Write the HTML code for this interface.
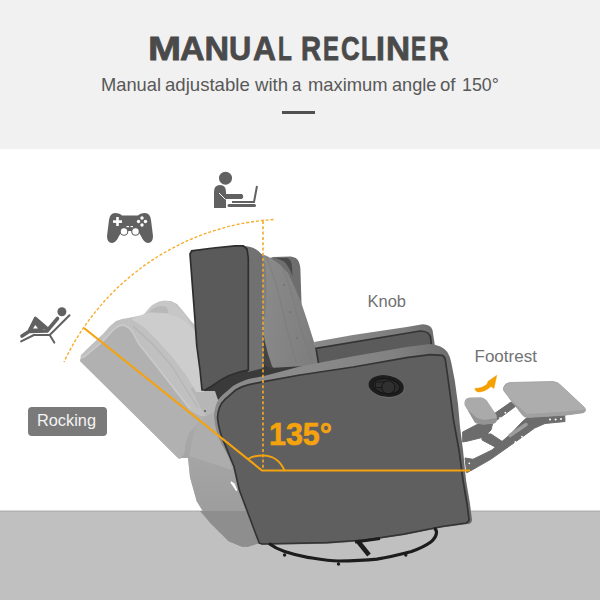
<!DOCTYPE html>
<html><head><meta charset="utf-8">
<style>
html,body{margin:0;padding:0;width:600px;height:600px;overflow:hidden;background:#fff;}
body{position:relative;font-family:"Liberation Sans",sans-serif;}
.hdr{position:absolute;left:0;top:0;width:600px;height:149px;background:#f1f1f1;}
.floor{position:absolute;left:0;top:511px;width:600px;height:90px;background:#c0c0c0;}
.t{position:absolute;white-space:nowrap;line-height:1;}
svg{position:absolute;left:0;top:0;}
.ttl{top:30.5px;font-size:34px;font-weight:bold;color:#4a4a4a;transform-origin:0 0;-webkit-text-stroke:0.8px #4a4a4a;}
.sub{top:76px;font-size:18.6px;color:#585858;transform-origin:0 0;}
</style></head><body>
<div class="hdr"></div>
<div class="floor"></div>
<!--TXT-->
<div class="t ttl" style="left:148.17px;transform:scaleX(1.167)">M</div>
<div class="t ttl" style="left:180.00px;transform:scaleX(1.000)">A</div>
<div class="t ttl" style="left:204.50px;transform:scaleX(1.000)">N</div>
<div class="t ttl" style="left:229.19px;transform:scaleX(0.905)">U</div>
<div class="t ttl" style="left:253.07px;transform:scaleX(0.935)">A</div>
<div class="t ttl" style="left:277.67px;transform:scaleX(0.667)">L</div>
<div class="t ttl" style="left:301.36px;transform:scaleX(0.818)">R</div>
<div class="t ttl" style="left:322.60px;transform:scaleX(0.700)">E</div>
<div class="t ttl" style="left:340.74px;transform:scaleX(0.761)">C</div>
<div class="t ttl" style="left:360.56px;transform:scaleX(0.722)">L</div>
<div class="t ttl" style="left:376.12px;transform:scaleX(0.940)">I</div>
<div class="t ttl" style="left:385.74px;transform:scaleX(0.980)">N</div>
<div class="t ttl" style="left:411.48px;transform:scaleX(0.660)">E</div>
<div class="t ttl" style="left:429.10px;transform:scaleX(0.800)">R</div>
<div class="t sub" style="left:101.02px;transform:scaleX(0.983)">Manual</div>
<div class="t sub" style="left:165.00px;transform:scaleX(1.000)">adjustable</div>
<div class="t sub" style="left:255.00px;transform:scaleX(1.000)">with</div>
<div class="t sub" style="left:292.10px;transform:scaleX(0.900)">a</div>
<div class="t sub" style="left:308.01px;transform:scaleX(0.987)">maximum</div>
<div class="t sub" style="left:392.02px;transform:scaleX(0.977)">angle</div>
<div class="t sub" style="left:440.00px;transform:scaleX(1.000)">of</div>
<div class="t sub" style="left:461.54px;transform:scaleX(0.958)">150°</div>
<!--/TXT-->
<div style="position:absolute;left:282px;top:111px;width:33px;height:3px;background:#505050;"></div>
<svg width="600" height="600" viewBox="0 0 600 600">
<defs>
 <linearGradient id="gBand" gradientUnits="userSpaceOnUse" x1="300" y1="0" x2="455" y2="0"><stop offset="0" stop-color="#8b8b8b"/><stop offset="0.6" stop-color="#828282"/><stop offset="1" stop-color="#6a6a6a"/></linearGradient>
 <linearGradient id="gFarBand" gradientUnits="userSpaceOnUse" x1="320" y1="0" x2="436" y2="0"><stop offset="0" stop-color="#888"/><stop offset="0.7" stop-color="#7e7e7e"/><stop offset="1" stop-color="#6c6c6c"/></linearGradient>
 <linearGradient id="gGhostArm" x1="0" y1="0" x2="0" y2="1"><stop offset="0" stop-color="#acacac"/><stop offset="1" stop-color="#989898"/></linearGradient>
 <linearGradient id="gCush" x1="0" y1="0" x2="1" y2="0.3"><stop offset="0" stop-color="#8c8c8c"/><stop offset="1" stop-color="#7e7e7e"/></linearGradient>
</defs>
<rect x="0" y="510.5" width="600" height="1.5" fill="#b3b3b3"/>
<!-- ghost chair -->
<g id="ghost">
 <!-- ghost base silhouette -->
 <path d="M80,361 L81,355 L88,348 L103,334 L110,326 L116,321 L122,319 L128,318 L138,316 L143,315 L149,309 L155,304 L163,301 L171,301 L177,304 L183,311 L191,321 L195,325 L198,350 L200,380 L204,390 L216,390 L222,400 L216,416 L220.7,432 L234,466.7 L247.3,506.7 L255.3,528 L260,543 L248,546.7 L242,546.7 L228.7,541.3 L210,522.7 L196.7,501.3 L190,477.3 L188,458 L184,454 L180,459 L178,458 Z" fill="#c0c0c0"/>
 <!-- ghost lower arm -->
 <path d="M178,458 L184,454 L185,444 L188,434 L196,424 L206,416 L218,410 L216,416 L220.7,432 L234,466.7 L247.3,506.7 L255.3,528 L260,543 L248,546.7 L242,546.7 L228.7,541.3 L210,522.7 L196.7,501.3 L190,477.3 L188,458 Z" fill="url(#gGhostArm)"/>
 <path d="M189,456 L196,424 L206,416 L218,410 L216,416 L220.7,432 L232,470 Z" fill="#adadad"/>
 <path d="M190,511 L200,511 L210,522.7 L228.7,541.3 L242,546.7 L248,546.7 L260,543 L255.3,528 L250,511 Z" fill="#8e8e8e"/>
 <path d="M231,482 L236.7,490.7 L234,484 Z" fill="#fff" stroke="#fff" stroke-width="1.5"/>
 <!-- ghost band under panel -->
 <path d="M191,389 L202,410 L206,416 L218,410 L222,400 L216,390 L204,390 L200,380 Z" fill="#b6b6b6"/>
 <!-- ghost cushion -->
 <path d="M131,319 L135,317.4 L145.8,313.6 L156.7,312.5 L167.5,313.6 L178.3,316.8 L187,322.2 L193.5,328.7 L195.5,332 L198,350 L200,378 L204,392 L196,392 L186,375 L173,358 L157,340 L145,328 L136,322 Z" fill="#cdcdcd"/>
 <!-- far ghost wing hump -->
 <path d="M145.8,312.5 Q150,306 154.5,303.8 Q160,300.5 165.3,300.6 Q170,301 172.9,302.8 L180.5,309.3 L187,318 L193.5,327.7 L194.5,330 L187,322.2 L178.3,316.8 L167.5,313.6 L156.7,312.5 Z" fill="#c7c7c7"/>
 <path d="M149,311.8 Q153,308 156.7,307 Q161,305.5 164.3,306 Q167,307 167.5,309.3 L168.6,313.3 L156.7,312.5 Z" fill="#b8b8b8"/>
 <!-- ghost front face -->
 <path d="M80,361 L81,359 L84,358 L103,342 L110,334.5 Q116.5,326.5 122.5,326 Q128,326.5 132,333 L138.5,345 L154.5,365 L174,390 L189.5,410 L200,416 L206,416 L196,424 L188,434 L185,444 L184,454 L180,459 L178,458 Z" fill="#b1b1b1"/>
 <path d="M82,357 L84,357 L103,341 L110,333.5 Q116.5,325.5 122.5,325 Q128,325.5 132.5,332 L139,344 L155,364 L174.5,389 L190,408.5" fill="none" stroke="#cbcbcb" stroke-width="1.3"/>
 <path d="M133,326 L153.5,345 L171,365 L186.7,390 L198,408" fill="none" stroke="#b4b4b4" stroke-width="1.2"/>
 <circle cx="205" cy="411" r="1" fill="#555"/>
</g>
<!-- main chair -->
<g id="main">
 <!-- far wing -->
 <path d="M270,258 L273.4,256.9 L290.7,256.6 Q297,257.5 298.5,261.2 Q300.5,265 300.5,272 L301.5,304 L290,300 Z" fill="#6e6e6e"/>
 <path d="M275,258 L287.5,258 Q291.5,260 292,266 L292.5,276 Q289,266 284,261.5 Q280,259 275,258 Z" fill="#4a4a4a"/>
 <!-- tufted back cushion -->
 <path d="M258,253 L262,254 L269,257 L280,264.5 L288,273 L295,288 L301.5,303.5 L308,323 L314,342 L320,360 L321,370 L290,376 L272,374 Q264,345 261,318 Z" fill="url(#gCush)"/>
 <path d="M264,262 Q267,290 264,318" fill="none" stroke="#767676" stroke-width="2" opacity="0.6"/>
 <path d="M266,256 Q276,280 283,312 Q288,335 296,362 M282,266 Q292,290 296,312 Q302,335 312,360" fill="none" stroke="#7a7a7a" stroke-width="1.2" opacity="0.55"/>
 <circle cx="284" cy="285" r="1" fill="#707070"/><circle cx="290" cy="312" r="1" fill="#707070"/><circle cx="297" cy="338" r="1" fill="#707070"/>
 <path d="M261,316 Q264,345 272,366 L276,372 L262,378 Z" fill="#444"/>
 <!-- far arm -->
 <path d="M314,342 L353,335 L406.7,327 L422.7,324.3 Q430.7,324.5 432.5,330 L434.7,344.3 L436,365 L320,372 Z" fill="url(#gFarBand)"/>
 <path d="M316,348.3 L420,331 Q429,331 430.5,337 L431.5,346 L432,365 L320,372 Z" fill="#5b5b5b" stroke="#343434" stroke-width="1.7"/>
 <!-- shadow between panel and arm -->
 <path d="M204,391 L212,380 L240,365 L258,362 L270,368 L305,366 L306,372 L263,377.5 L246.7,382.5 L230,390 L218,400 L215,391 Z" fill="#3a3a3a"/>
 <!-- back wing panel side -->
 <path d="M240,245.8 Q258,245.5 263.5,258 L263.5,368 L248,372 Z" fill="#717171"/>
 <!-- back wing panel front face -->
 <path d="M190,254 L191.7,250.8 L213.3,248 L235,245.8 L243.3,245.8 L247,249 L248.3,258 L248.3,370 C235,372 222,378 212,386 L205,390 L202,390 L200,370 L196.7,345 L195,320 Z" fill="#5a5a5a" stroke="#2e2e2e" stroke-width="1.7"/>
 <!-- front arm outer (band) -->
 <path d="M214,416 C214.5,407 217,400 222.5,395 L233.3,385.8 C239,382.5 244,380.5 248.5,379 L265,375.8 L300,366.5 L353.3,356.3 L406.7,347 L430,344 Q442,345 447.3,352 Q450.5,357 451.3,362.7 L454.7,380 L458,404 L460,426.7 L463,450 L466,480 L470,504 L472,520 Q471.5,524 468,524 L442,527.5 L404,535 L365,541 L327,543.7 L262,545 L259.3,543.3 L255.3,532.7 L247.3,511.3 L239.3,490 L234,466.7 L222,444.7 Q215,432 214,416 Z" fill="url(#gBand)"/>
 <!-- front arm face -->
 <path d="M217.5,418 C217.8,410 220,404 225,399.3 L235.7,390 C240,387.5 245,385.5 249,384.7 L265,381.3 L300,375 L353.3,367 L406.7,357.7 L430,354.7 L442,355.3 Q445,357 445.3,360 L447.3,373.3 L450,393.3 L453.5,420 L459,450 L463,480 L467,504 L469,519 Q469,522 466,523 L442,526.5 L404,534.2 L365,540 L327,542.7 L262,544 L259.3,543 L255.3,532.7 L247.3,511.3 L239.3,490 L234,466.7 L225,444.7 Q219,432 217.5,418 Z" fill="#5f5f5f" stroke="#343434" stroke-width="1.7"/>
 <!-- knob -->
 <ellipse cx="386.5" cy="386.5" rx="18.5" ry="11.5" transform="rotate(8 386.5 386.5)" fill="#6a6a6a"/>
 <ellipse cx="386.2" cy="386" rx="17.8" ry="10.7" transform="rotate(8 386.2 386)" fill="#1e1e1e"/>
 <ellipse cx="386.5" cy="386.2" rx="13.5" ry="7.5" transform="rotate(8 386.5 386.2)" fill="#2b2b2b" stroke="#141414" stroke-width="1"/>
 <path d="M375.5,382 L386,382 L386,387.5 L375.5,387.5 Z" fill="#2f2f2f" stroke="#151515" stroke-width="0.8"/>
 <circle cx="388.3" cy="387.3" r="6.5" fill="#303030" stroke="#151515" stroke-width="1"/>
</g>
<!-- footrest -->
<g id="foot" fill="#6c6c6c" stroke="#6c6c6c" stroke-width="1" stroke-linejoin="round">
 <path d="M462.7,432 L480,423 L493,422 L491,430 L484,437 L468,441 L462.7,442 Z"/>
 <path d="M482,434 L491,434 L503,442 L499,449 L482,440 Z"/>
 <path d="M465,458 L473,459.3 L492,450 L510.7,434 L522,422 L527,417.5 L564.7,415 L565,421.5 L545,423.5 L534.7,428 L522.7,436.7 L490.7,459.3 L472,470 L466.7,472.7 Z"/>
 <path d="M491,416 L511,402 L516,406 L497,420 Z"/>
</g>
<g>
 <path d="M510,435.5 L526,424.5" stroke="#9c9c9c" stroke-width="3.5" stroke-linecap="round"/>
 <circle cx="550" cy="419.5" r="1" fill="#fff"/><circle cx="555.6" cy="419.5" r="1" fill="#fff"/><circle cx="561" cy="419" r="1" fill="#fff"/>
 <circle cx="500" cy="418" r="0.9" fill="#fff"/><circle cx="505.3" cy="412.7" r="0.9" fill="#fff"/>
 <circle cx="515.3" cy="442" r="0.9" fill="#fff"/><circle cx="522" cy="436.7" r="0.9" fill="#fff"/><circle cx="469.3" cy="463.3" r="0.9" fill="#fff"/>
 <path d="M503.5,387.5 Q505,383 510,382.5 L553,381.5 Q558,382 561,385.5 L584.5,407.5 Q587,411 583,412.8 L564.7,415.2 L527.3,417.5 Q524,417 522.7,415.2 L504,391 Q503,389 503.5,387.5 Z" fill="#adadad" stroke="#9c9c9c" stroke-width="0.8"/>
 <path d="M508,397 L522.7,415.2 Q524,417 527.3,417.5 L564.7,415.2 L583,412.8 Q586,412 585.5,409.5 L560,412 L527,414 Z" fill="#a0a0a0"/>
 <path d="M464.5,401.5 Q466,397.7 470,397.5 L481,397.3 Q486,398 488.8,403.5 L496.5,415 Q498,422 494,423.5 L483,424.5 L477,423.5 Q475,423 474,421 L464.5,405 Z" fill="#aaaaaa"/>
 <path d="M468,410 L474,421 Q475,423 477,423.5 L483,424.5 L494,423.5 Q497.5,422 497,418 L484,420 L477,418 Z" fill="#939393"/>
 <path d="M474.7,389 L475.25,388.3 Q479,388.2 481.7,387.3 Q485,386 486.9,384.3 L488.1,381.3 L496.8,375.2 L494,388.5 L491,386.6 Q488,389.3 484.6,390.8 Q481,392.3 477.6,392 Q475.5,391 474.7,389 Z" fill="#f5a000" stroke="#f5a000" stroke-width="0.4"/>
</g>
<!-- base -->
<g id="base" fill="none" stroke="#1c1c1c">
 <path d="M269,543.5 C275,548 280,550 284.6,551.5 C295,555 300,556 307.7,557.3 C318,559 328,561 338.5,561 C352,561 365,560.5 377,559.2 C390,557 400,554.5 411.5,551.5 C420,548.5 426,545.5 430.8,542 C435,538.5 436.5,535.5 436.5,532.3 C436.5,530 435.5,529 434,528.5" stroke-width="3.2"/>
 <path d="M357.7,541 L369,555" stroke-width="4.6"/>
 <path d="M355,542 L380,538.5" stroke-width="3"/>
</g>
<g fill="#1c1c1c"><circle cx="284.6" cy="555" r="1.7"/><circle cx="338.5" cy="564" r="1.7"/><circle cx="405.8" cy="555" r="1.7"/></g>
<!-- orange annotations -->
<g id="orange" fill="none" stroke="#f4a30f">
 <path d="M273.5,219.5 A249.25,249.25 0 0 0 64,362" stroke-width="1.4" stroke-dasharray="3,1.9" stroke="#f6ad2c"/>
 <path d="M263,221 L263,470" stroke-width="1.6" stroke-dasharray="3,2.3" stroke="#f5ab2a"/>
 <path d="M84,328 L262,470.5 L470,470.5" stroke-width="2.2"/>
 <path d="M248.2,459 C252,456.3 258,455.5 263,455.5 C272,455.5 280.5,460.5 284.6,471" stroke-width="2"/>
</g>
<text x="0" y="0" transform="translate(269 445) scale(0.95 1)" font-family="Liberation Sans" font-weight="bold" font-size="32" fill="#f4a30f" stroke="#f4a30f" stroke-width="0.7">135°</text>
<!-- icons -->
<g fill="#616161">
 <circle cx="225.5" cy="178.2" r="6.5"/>
 <path d="M214,208 L214,192 Q214,185 220,185 Q226,185 226,192 L226,194 L242,194 Q244.5,196.5 242,199 L226,199 L226,208 Z"/>
 <path d="M219,193 L225.5,199.5" stroke="#fff" stroke-width="1" fill="none"/>
 <path d="M232,202 L254,202 L257,186" stroke="#616161" stroke-width="2" fill="none"/>
 <rect x="227.5" y="204" width="28.5" height="3" rx="1.5"/>
</g>
<g fill="#616161">
 <path d="M115,213 Q110,213 109,220 L107,236 Q107,243 112,243 Q116,243 119,236 L122,231 L138,231 L141,236 Q144,243 148,243 Q153,243 153,236 L151,220 Q150,213 145,213 Q140,213 138,215.5 L122,215.5 Q120,213 115,213 Z"/>
 <g fill="#fff">
  <rect x="113" y="220.3" width="9" height="2.6"/><rect x="116.2" y="217" width="2.6" height="9"/>
  <circle cx="142" cy="218" r="1.7"/><circle cx="138.5" cy="221.5" r="1.7"/><circle cx="145.5" cy="221.5" r="1.7"/><circle cx="142" cy="225" r="1.7"/>
  <rect x="126.5" y="226" width="2.5" height="1.2"/><rect x="130.5" y="226" width="2.5" height="1.2"/>
 </g>
 <circle cx="124" cy="231.5" r="4.3"/><circle cx="135.5" cy="231.5" r="4.3"/>
 <circle cx="124" cy="231.5" r="3.2" fill="#fff"/><circle cx="135.5" cy="231.5" r="3.2" fill="#fff"/>
</g>
<g fill="#616161" stroke="#616161" stroke-linecap="round" stroke-linejoin="round">
 <circle cx="61.9" cy="311.7" r="4.5" stroke="none"/>
 <path d="M21.1,341.4 L33.9,335 L49.7,335 L69.5,315.2" fill="none" stroke-width="2"/>
 <path d="M49.7,335 L54.3,342.6" fill="none" stroke-width="2"/>
 <path d="M22,336 L29,331.5 L47,331 L57.5,318.5 M29,331.5 L35.5,318.5 L46.5,328" fill="none" stroke-width="3.6"/>
 <path d="M29,331.5 L35.5,318.5 L46.5,328 Z" fill="#616161" stroke-width="2.2"/>
 <path d="M35.3,325 L38,328.5 L33,328.5 Z" fill="#fff" stroke="none"/>
</g>

</svg>
<div style="position:absolute;left:28px;top:407px;width:79px;height:28.5px;border-radius:4px;background:#7a7a7a;"></div>
<div class="t" style="left:37.3px;top:411.5px;font-size:17px;color:#f4f4f4;transform:scaleX(0.96);transform-origin:0 0;">Rocking</div>
<div class="t" style="left:367.5px;top:292.5px;font-size:16.5px;color:#727272;">Knob</div>
<div class="t" style="left:474.5px;top:348px;font-size:17px;color:#727272;">Footrest</div>

</body></html>
